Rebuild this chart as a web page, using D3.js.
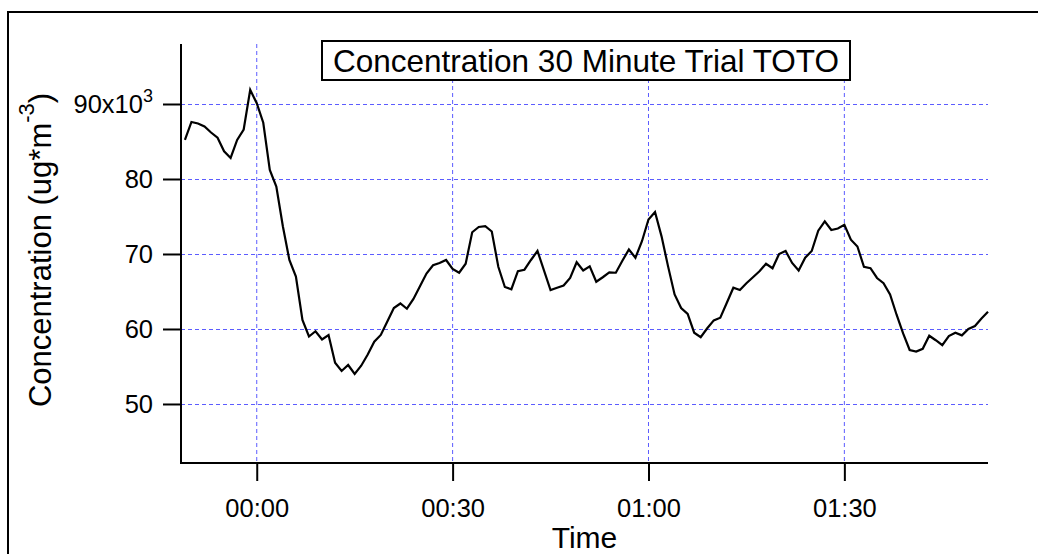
<!DOCTYPE html>
<html>
<head>
<meta charset="utf-8">
<script src="https://cdn.jsdelivr.net/npm/d3@7"></script>
<style>
  html, body { margin: 0; padding: 0; background: #fff; }
  svg { display: block; }
  text { font-family: "Liberation Sans", Arial, Helvetica, sans-serif; fill: #000; }
</style>
</head>
<body>
<svg id="chart" width="1038" height="554"></svg>
<script>
// Elapsed time of each sample, in minutes from the start mark (00:00)
const sampleMinutes = [
  -11, -10, -9, -8, -7, -6, -5, -4, -3, -2, -1, 0, 1, 2, 3, 4, 5, 6, 7, 8, 9,
  10, 11, 12, 13, 14, 15, 16, 17, 18, 19, 20, 21, 22, 23, 24, 25, 26, 27, 28, 29,
  30, 31, 32, 33, 34, 35, 36, 37, 38, 39, 40, 41, 42, 43, 45, 46, 47, 48, 49,
  50, 51, 52, 53, 54, 55, 56, 57, 58, 59, 60, 61, 62, 63, 64, 65, 66, 67, 68, 69,
  70, 71, 72, 73, 74, 75, 76, 77, 78, 79, 80, 81, 82, 83, 84, 85, 86, 87, 88, 89,
  90, 91, 92, 93, 94, 95, 96, 97, 98, 99, 100, 101, 102, 103, 104, 105, 106, 107,
  108, 109, 110, 111, 112
];

// Concentration (ug*m^-3) for each sample
const concentration = [
  85200, 87600, 87400, 87000, 86200, 85500, 83700, 82800, 85200, 86600, 91900,
  90100, 87500, 81200, 79000, 73700, 69200, 67000, 61200, 59000, 59700,
  58600, 59200, 55500, 54400, 55200, 54000, 55100, 56600, 58300, 59200,
  61000, 62800, 63400, 62700, 64000, 65700, 67400, 68500, 68800, 69200,
  68000, 67500, 68700, 72900, 73600, 73700, 73000, 68300, 65600, 65300,
  67700, 67900, 69200, 70400, 65200, 65500, 65800, 66800, 68900,
  67800, 68350, 66300, 66900, 67550, 67500, 69100, 70600, 69500, 71700,
  74600, 75600, 72350, 68350, 64600, 62800, 62000, 59500, 58900, 60100,
  61150, 61500, 63500, 65500, 65200, 66100, 66900, 67700, 68700, 68100,
  70000, 70400, 68800, 67800, 69500, 70400, 73100, 74350, 73200, 73400,
  73900, 71900, 71000, 68300, 68100, 66800, 66100, 64600, 61900, 59400,
  57200, 57000, 57350, 59100, 58500, 57850, 59050, 59500, 59150,
  60000, 60400, 61400, 62300
];

const yTicks = [50000, 60000, 70000, 80000, 90000];
const titleText = "Concentration 30 Minute Trial TOTO";
const xTitle = "Time";
const yTitle = "Concentration (ug*m";
const yTitleSup = "-3";
const yTitleEnd = ")";

const startMark = Date.UTC(2000, 0, 1, 0, 0, 0);
const toDate = m => new Date(startMark + m * 60000);
const data = sampleMinutes.map((m, i) => ({ t: toDate(m), v: concentration[i] }));

const svg = d3.select("#chart");
const plot = { left: 181, right: 988, top: 44, bottom: 463 };
const gridColor = "#5c5cff";

// Outer frame (runs past the right and bottom edges)
svg.append("rect")
  .attr("x", 8).attr("y", 12)
  .attr("width", 1200).attr("height", 700)
  .attr("fill", "none").attr("stroke", "#000").attr("stroke-width", 2);

const x = d3.scaleUtc()
  .domain([toDate(-11.6), toDate(112)])
  .range([plot.left, plot.right]);

const y = d3.scaleLinear()
  .domain([42130, 98000])
  .range([plot.bottom, plot.top]);

const xTickVals = x.ticks(d3.utcMinute.every(30));

// Grid
const grid = svg.append("g").attr("stroke", gridColor).attr("stroke-width", 1)
  .attr("stroke-dasharray", "4,3").attr("fill", "none");
grid.selectAll("line.h").data(yTicks).join("line")
  .attr("class", "h")
  .attr("x1", plot.left).attr("x2", plot.right)
  .attr("y1", d => Math.round(y(d)) + 0.5).attr("y2", d => Math.round(y(d)) + 0.5);
grid.selectAll("line.v").data(xTickVals).join("line")
  .attr("class", "v")
  .attr("x1", d => x(d)).attr("x2", d => x(d))
  .attr("y1", plot.top).attr("y2", plot.bottom);

// Data trace
const line = d3.line().x(d => x(d.t)).y(d => y(d.v));
svg.append("path")
  .datum(data)
  .attr("d", line)
  .attr("fill", "none")
  .attr("stroke", "#000")
  .attr("stroke-width", 2.2)
  .attr("stroke-linejoin", "miter");

// Y axis
const yAxis = svg.append("g")
  .attr("transform", `translate(${plot.left},0)`)
  .call(d3.axisLeft(y).tickValues(yTicks).tickSize(18).tickPadding(10)
    .tickFormat(d => d3.format("d")(d / 1000)));
yAxis.select(".domain").remove();
yAxis.selectAll(".tick line").attr("stroke", "#000").attr("stroke-width", 2);
yAxis.selectAll(".tick text")
  .attr("font-size", 25.5)
  .attr("font-family", "'Liberation Sans', Arial, sans-serif");
yAxis.selectAll(".tick").filter(d => d === 90000).select("text")
  .text("90x10")
  .append("tspan").attr("dy", "-0.6em").attr("font-size", 18).text("3");

svg.append("line")
  .attr("x1", plot.left).attr("x2", plot.left)
  .attr("y1", plot.top).attr("y2", plot.bottom + 1)
  .attr("stroke", "#000").attr("stroke-width", 2);

// X axis
const xAxis = svg.append("g")
  .attr("transform", `translate(0,${plot.bottom})`)
  .call(d3.axisBottom(x).tickValues(xTickVals).tickSize(18).tickPadding(18)
    .tickFormat(d3.utcFormat("%H:%M")));
xAxis.select(".domain").remove();
xAxis.selectAll(".tick line").attr("stroke", "#000").attr("stroke-width", 2);
xAxis.selectAll(".tick text")
  .attr("font-size", 25.5)
  .attr("font-family", "'Liberation Sans', Arial, sans-serif");

svg.append("line")
  .attr("x1", plot.left - 1).attr("x2", plot.right)
  .attr("y1", plot.bottom).attr("y2", plot.bottom)
  .attr("stroke", "#000").attr("stroke-width", 2);

// Axis titles
svg.append("text")
  .attr("x", (plot.left + plot.right) / 2).attr("y", 548)
  .attr("text-anchor", "middle").attr("font-size", 30)
  .text(xTitle);

const yt = svg.append("text")
  .attr("transform", "translate(51,250) rotate(-90)")
  .attr("text-anchor", "middle").attr("font-size", 31);
yt.append("tspan").text(yTitle);
yt.append("tspan").attr("dy", -17).attr("font-size", 22).text(yTitleSup);
yt.append("tspan").attr("dy", 17).text(yTitleEnd);

// Title box
const titleG = svg.append("g");
titleG.append("rect")
  .attr("x", 322).attr("y", 41).attr("width", 528).attr("height", 39)
  .attr("fill", "#fff").attr("stroke", "#000").attr("stroke-width", 2);
titleG.append("text")
  .attr("x", 586).attr("y", 72)
  .attr("text-anchor", "middle").attr("font-size", 31.5)
  .text(titleText);
</script>
</body>
</html>
